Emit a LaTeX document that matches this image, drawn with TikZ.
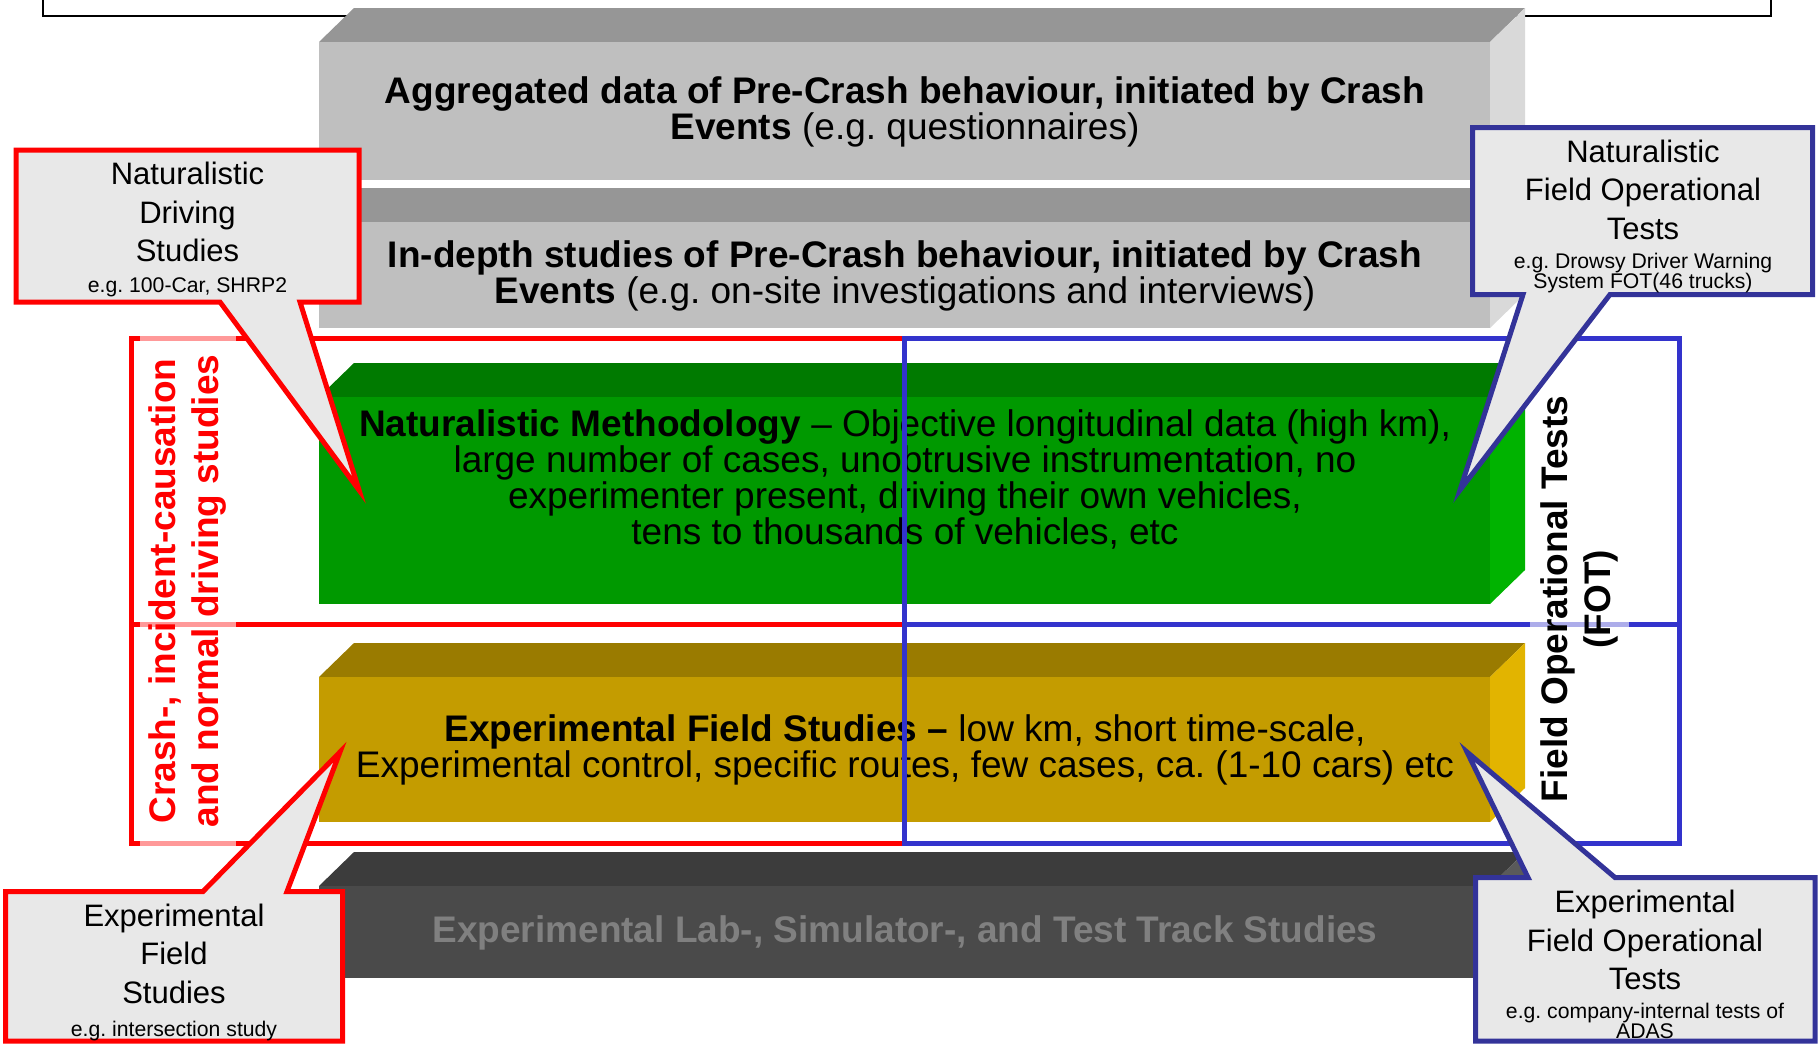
\documentclass[tikz,border=0pt]{standalone}
\usepackage{fontspec}
\setmainfont{Liberation Sans}
\usetikzlibrary{positioning}
\frenchspacing

\definecolor{graytop}{HTML}{969696}
\definecolor{grayfront}{HTML}{BFBFBF}
\definecolor{grayside}{HTML}{D9D9D9}
\definecolor{nattop}{HTML}{007A00}
\definecolor{natfront}{HTML}{009900}
\definecolor{natside}{HTML}{00B300}
\definecolor{expftop}{HTML}{9A7B00}
\definecolor{expffront}{HTML}{C49C00}
\definecolor{expfside}{HTML}{E2B400}
\definecolor{labtop}{HTML}{3C3C3C}
\definecolor{labfront}{HTML}{4A4A4A}
\definecolor{labside}{HTML}{5A5A5A}
\definecolor{labtext}{HTML}{808080}
\definecolor{fotblue}{HTML}{3333CC}
\definecolor{calloutblue}{HTML}{333399}
\definecolor{calloutfill}{HTML}{E8E8E8}

\tikzset{
    slabtext/.style={align=center, inner sep=0pt, font=\fontsize{18.5}{18}\selectfont},
    frameline/.style={line width=2.5pt},
    sidelabel/.style={rotate=90, align=center, inner sep=0pt, fill=white, fill opacity=0.6, text opacity=1, font=\bfseries\fontsize{18.5}{21.5}\selectfont},
    callout/.style={line width=2.5pt, fill=calloutfill, line join=miter},
    callouttitle/.style={align=center, inner sep=0pt, font=\fontsize{15.5}{19.25}\selectfont},
    calloutnote/.style={align=center, inner sep=0pt, font=\fontsize{10.6}{10}\selectfont},
}

\begin{document}
\begin{tikzpicture}[x=0.5pt, y=-0.5pt]
    \useasboundingbox (0,0) rectangle (1820,1045);

    % frame running off the top
    \draw[line width=1pt] (43,-20) rectangle (1771,16);

    % slabs: top face, right side, front face
    \foreach \ya/\yb/\kind in {42/180/gray, 222/328/gray, 397/604/nat, 677/822/expf, 886/978/lab}{
        \fill[\kind top] (319,\ya) -- (354,{\ya-34}) -- (1525,{\ya-34}) -- (1490,\ya) -- cycle;
        \fill[\kind side] (1490,\ya) -- (1525,{\ya-34}) -- (1525,{\yb-34}) -- (1490,\yb) -- cycle;
        \fill[\kind front] (319,\ya) rectangle (1490,\yb);
    }

    \node[slabtext] (aggregated) at (905,112) {\textbf{Aggregated data of Pre-Crash behaviour, initiated by Crash}\\\textbf{Events} (e.g. questionnaires)};
    \node[slabtext] (indepth) at (905,276) {\textbf{In-depth studies of Pre-Crash behaviour, initiated by Crash}\\\textbf{Events} (e.g. on-site investigations and interviews)};
    \node[slabtext] (naturalistic) at (905,479) {\textbf{Naturalistic Methodology} -- Objective longitudinal data (high km),\\large number of cases, unobtrusive instrumentation, no\\experimenter present, driving their own vehicles,\\tens to thousands of vehicles, etc};
    \node[slabtext] (expfield) at (905,750) {\textbf{Experimental Field Studies --} low km, short time-scale,\\Experimental control, specific routes, few cases, ca. (1-10 cars) etc};
    \node[slabtext, text=labtext, font=\bfseries\fontsize{18.5}{18}\selectfont] (lab) at (905,933) {Experimental Lab-, Simulator-, and Test Track Studies};

    % the two frames
    \draw[frameline, red] (131,338) rectangle (904,843);
    \draw[frameline, red] (131,624) -- (904,624);
    \draw[frameline, fotblue] (904,338) rectangle (1679,843);
    \draw[frameline, fotblue] (904,624) -- (1679,624);

    \node[sidelabel, text=red, minimum width=256pt, minimum height=48pt] (crashlabel) at (188,591) {Crash-, incident-causation\\and normal driving studies};
    \node[sidelabel, minimum width=220pt, minimum height=49.5pt] (fotlabel) at (1579,599) {Field Operational Tests\\(FOT)};

    % callouts
    \draw[callout, draw=red] (16,150) -- (359,150) -- (359,302) -- (300,302) -- (359,490) -- (220,302) -- (16,302) -- cycle;
    \node[callouttitle] (ndstitle) at (187.5,212) {Naturalistic\\Driving\\Studies};
    \node[calloutnote, below=7.5pt of ndstitle] (ndsnote) {e.g. 100-Car, SHRP2};

    \draw[callout, draw=calloutblue] (1472.5,127.5) -- (1812.5,127.5) -- (1812.5,294.5) -- (1610,294.5) -- (1460,490) -- (1523,294.5) -- (1472.5,294.5) -- cycle;
    \node[callouttitle] (nfottitle) at (1643,189.5) {Naturalistic\\Field Operational\\Tests};
    \node[calloutnote, below=6.5pt of nfottitle] (nfotnote) {e.g. Drowsy Driver Warning\\System FOT(46 trucks)};

    \draw[callout, draw=red] (5.5,891.5) -- (203,891.5) -- (340,752) -- (287,891.5) -- (342.5,891.5) -- (342.5,1041) -- (5.5,1041) -- cycle;
    \node[callouttitle] (efstitle) at (174,953.5) {Experimental\\Field\\Studies};
    \node[calloutnote, below=8.5pt of efstitle] (efsnote) {e.g. intersection study};

    \draw[callout, draw=calloutblue] (1475.5,877.5) -- (1528,877.5) -- (1467,752) -- (1615,877.5) -- (1815,877.5) -- (1815,1041) -- (1475.5,1041) -- cycle;
    \node[callouttitle] (efottitle) at (1645,940) {Experimental\\Field Operational\\Tests};
    \node[calloutnote, below=6pt of efottitle] (efotnote) {e.g. company-internal tests of\\ADAS};
\end{tikzpicture}
\end{document}
